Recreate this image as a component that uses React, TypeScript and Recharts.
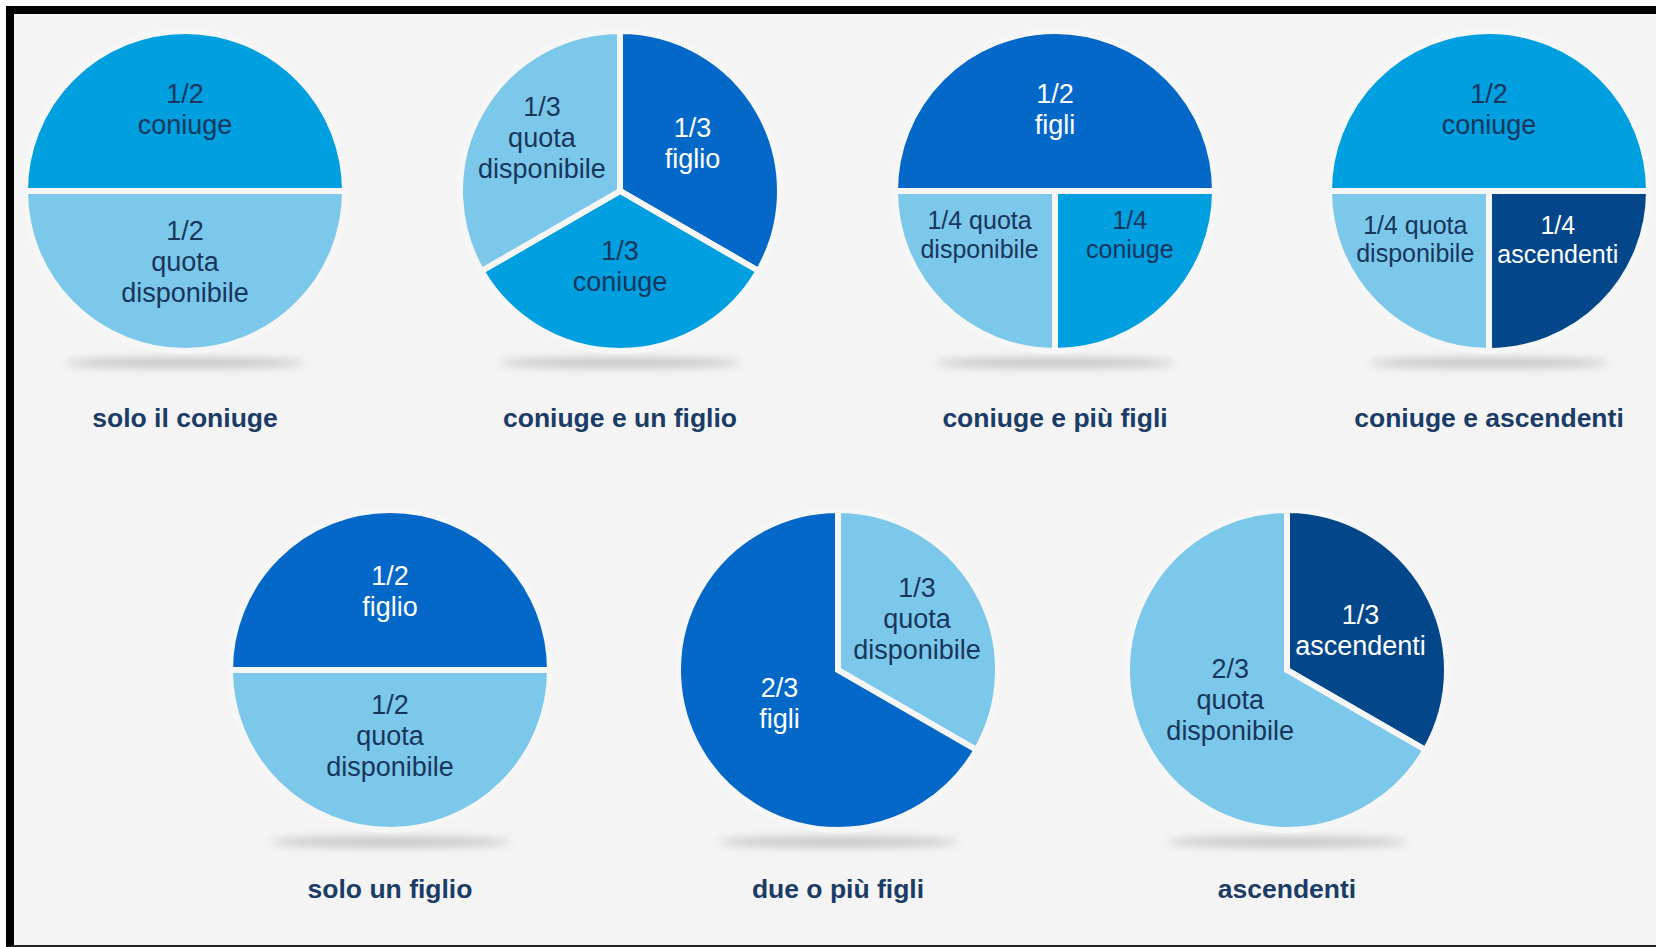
import React from "react";
import { PieChart, Pie, Cell } from "recharts";

// ---- data (one small array per pie) ----
const soloConiuge = [
  { role: "coniuge", value: 1, label: "1/2\nconiuge" },
  { role: "quota", value: 1, label: "1/2\nquota\ndisponibile" },
];
const coniugeUnFiglio = [
  { role: "figli", value: 1, label: "1/3\nfiglio" },
  { role: "coniuge", value: 1, label: "1/3\nconiuge" },
  { role: "quota", value: 1, label: "1/3\nquota\ndisponibile" },
];
const coniugePiuFigli = [
  { role: "figli", value: 2, label: "1/2\nfigli" },
  { role: "coniuge", value: 1, label: "1/4\nconiuge" },
  { role: "quota", value: 1, label: "1/4 quota\ndisponibile" },
];
const coniugeAscendenti = [
  { role: "coniuge", value: 2, label: "1/2\nconiuge" },
  { role: "ascendenti", value: 1, label: "1/4\nascendenti" },
  { role: "quota", value: 1, label: "1/4 quota\ndisponibile" },
];
const soloUnFiglio = [
  { role: "figli", value: 1, label: "1/2\nfiglio" },
  { role: "quota", value: 1, label: "1/2\nquota\ndisponibile" },
];
const duePiuFigli = [
  { role: "quota", value: 1, label: "1/3\nquota\ndisponibile" },
  { role: "figli", value: 2, label: "2/3\nfigli" },
];
const ascendenti = [
  { role: "ascendenti", value: 1, label: "1/3\nascendenti" },
  { role: "quota", value: 2, label: "2/3\nquota\ndisponibile" },
];

const titles = [
  "solo il coniuge",
  "coniuge e un figlio",
  "coniuge e più figli",
  "coniuge e ascendenti",
  "solo un figlio",
  "due o più figli",
  "ascendenti",
];

const pies = [soloConiuge, coniugeUnFiglio, coniugePiuFigli, coniugeAscendenti, soloUnFiglio, duePiuFigli, ascendenti];

// ---- styles / layout ----
const roleColor: Record<string, string> = {
  coniuge: "#009fe0",
  quota: "#7cc8ea",
  figli: "#0468c8",
  ascendenti: "#03478a",
};
const roleText: Record<string, string> = {
  coniuge: "#17365c",
  quota: "#17365c",
  figli: "#ffffff",
  ascendenti: "#ffffff",
};

const W = 1656;
const H = 947;
const R = 157;
const GAP = 6;
const GAP_COLOR = "#f6f6f6";
const FONT = "'Liberation Sans', Arial, Helvetica, sans-serif";

const layout = [
  { cx: 185, cy: 191, start: 180, end: -180, labels: [[0, 0.52], [0, 0.45]] },
  { cx: 620, cy: 191, start: 90, end: -270, labels: [[3, 0.55], [0, 0.48], [-4, 0.6]] },
  { cx: 1055, cy: 191, start: 180, end: -180, labels: [[0, 0.52], [15, 0.55], [-15, 0.555]] },
  { cx: 1489, cy: 191, start: 180, end: -180, labels: [[0, 0.52], [10, 0.535], [-12, 0.56]] },
  { cx: 390, cy: 670, start: 180, end: -180, labels: [[0, 0.5], [0, 0.42]] },
  { cx: 838, cy: 670, start: 90, end: -270, labels: [[3, 0.6], [0, 0.43]] },
  { cx: 1287, cy: 670, start: 90, end: -270, labels: [[-2, 0.53], [-2, 0.41]] },
];
const titleBaseline = (cy: number) => (cy < 400 ? 427 : 898);
const shadowY = (cy: number) => (cy < 400 ? 363 : 842);

const RAD = Math.PI / 180;

function makeLabel(p: number) {
  return (props: any) => {
    const { cx, cy, midAngle, index, percent } = props;
    const slice = pies[p][index];
    const [dA, rf] = layout[p].labels[index];
    const ang = (midAngle + dA) * RAD;
    const x = cx + R * rf * Math.cos(-ang);
    const y = cy + R * rf * Math.sin(-ang);
    const lines = slice.label.split("\n");
    const fs = Math.abs(percent - 0.25) < 0.001 ? 25 : 27;
    const lh = fs * 1.15;
    return (
      <text
        key={`l-${p}-${index}`}
        x={x}
        y={y}
        textAnchor="middle"
        fill={roleText[slice.role]}
        fontFamily={FONT}
        fontSize={fs}
      >
        {lines.map((ln: string, i: number) => (
          <tspan key={i} x={x} y={y + (i - (lines.length - 1) / 2) * lh} dominantBaseline="central">
            {ln}
          </tspan>
        ))}
      </text>
    );
  };
}

export default function App() {
  return (
    <div style={{ position: "absolute", left: 0, top: 0, width: W, height: H, background: "#ffffff", overflow: "hidden" }}>
      <div
        style={{
          position: "absolute",
          left: 6,
          top: 6,
          width: W - 6,
          height: H - 6,
          boxSizing: "border-box",
          borderTop: "8px solid #000",
          borderLeft: "8px solid #000",
          borderBottom: "2px solid #222",
          background: "#f4f4f4",
        }}
      />
      <svg width={W} height={H} style={{ position: "absolute", left: 0, top: 0 }}>
        <defs>
          <filter id="sh" x="-30%" y="-300%" width="160%" height="700%">
            <feGaussianBlur stdDeviation="4.5" />
          </filter>
        </defs>
        {layout.map((l, i) => (
          <g key={i}>
            <ellipse cx={l.cx} cy={shadowY(l.cy)} rx={120} ry={5} fill="#c4c4c4" filter="url(#sh)" />
            <text
              x={l.cx}
              y={titleBaseline(l.cy)}
              textAnchor="middle"
              fontFamily={FONT}
              fontWeight="bold"
              fontSize={26.5}
              fill="#1a3c66"
            >
              {titles[i]}
            </text>
          </g>
        ))}
      </svg>
      <div style={{ position: "absolute", left: 0, top: 0 }}>
        <PieChart width={W} height={H} margin={{ top: 0, right: 0, bottom: 0, left: 0 }}>
          {pies.map((data, p) => (
            <Pie
              key={p}
              data={data}
              dataKey="value"
              nameKey="role"
              cx={layout[p].cx}
              cy={layout[p].cy}
              outerRadius={R + GAP / 2}
              innerRadius={0}
              startAngle={layout[p].start}
              endAngle={layout[p].end}
              stroke={GAP_COLOR}
              strokeWidth={GAP}
              isAnimationActive={false}
              labelLine={false}
              label={makeLabel(p)}
            >
              {data.map((d, i) => (
                <Cell key={i} fill={roleColor[d.role]} stroke={GAP_COLOR} strokeWidth={GAP} />
              ))}
            </Pie>
          ))}
        </PieChart>
      </div>
    </div>
  );
}
